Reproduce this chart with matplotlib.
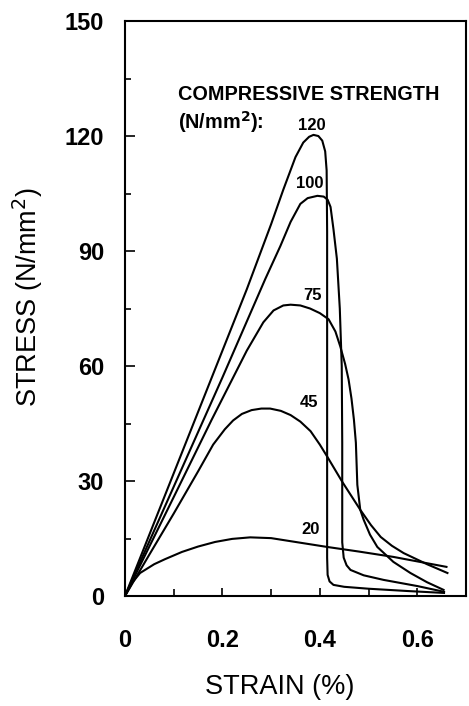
import matplotlib
matplotlib.use("Agg")
import matplotlib.pyplot as plt
from matplotlib.ticker import MultipleLocator

# stress-strain curves, strain in %, stress in N/mm2
strain_120 = [0, 0.1, 0.2, 0.25, 0.3, 0.325, 0.35, 0.366, 0.378, 0.387, 0.397, 0.405, 0.411, 0.414, 0.415,
              0.415, 0.416, 0.42, 0.428, 0.45, 0.5, 0.58, 0.655]
stress_120 = [0, 32, 64, 80, 97, 106, 114.5, 118.3, 119.8, 120.3, 120, 118.8, 116, 111, 95,
              10, 5.5, 3.8, 2.9, 2.4, 1.9, 1.3, 0.8]

strain_100 = [0, 0.1, 0.2, 0.288, 0.319, 0.34, 0.36, 0.375, 0.395, 0.408, 0.416, 0.422, 0.428, 0.435,
              0.441, 0.445, 0.446, 0.446, 0.449, 0.455, 0.463, 0.49, 0.531, 0.6, 0.655]
stress_100 = [0, 28.5, 57, 82.7, 91.3, 97.6, 102.3, 103.8, 104.4, 104.2, 103.4, 101.5, 95.7, 88,
              75, 60, 40, 14, 10, 8, 6.8, 5.4, 4.2, 2.6, 1.1]

strain_75 = [0, 0.1, 0.178, 0.25, 0.284, 0.305, 0.325, 0.34, 0.36, 0.38, 0.4, 0.418, 0.432, 0.442,
             0.452, 0.459, 0.465, 0.47, 0.474, 0.477, 0.483, 0.49, 0.503, 0.518, 0.551, 0.586, 0.62, 0.654]
stress_75 = [0, 25.8, 46, 64, 71.4, 74.5, 75.8, 76, 75.8, 75, 73.8, 72.2, 69, 65.1,
             60.5, 56.5, 51.5, 46, 40, 29, 22.5, 19.9, 16, 12.8, 8.9, 6.0, 3.6, 1.6]

strain_45 = [0, 0.05, 0.1, 0.15, 0.181, 0.205, 0.222, 0.24, 0.26, 0.28, 0.298, 0.32, 0.34, 0.36,
             0.381, 0.4, 0.415, 0.446, 0.483, 0.505, 0.525, 0.548, 0.572, 0.62, 0.662]
stress_45 = [0, 10.8, 21.5, 32.5, 39.5, 43.5, 45.8, 47.5, 48.5, 48.9, 48.9, 48.3, 47.2, 45.5,
             43, 39.5, 36.4, 29.8, 22.5, 18.5, 15.4, 13.1, 11.2, 8.3, 6.0]

strain_20 = [0, 0.015, 0.031, 0.06, 0.082, 0.117, 0.15, 0.185, 0.22, 0.257, 0.3, 0.36, 0.415, 0.48,
             0.551, 0.66]
stress_20 = [0, 3.5, 6.0, 8.3, 9.6, 11.5, 12.9, 14.1, 14.9, 15.3, 15.1, 13.9, 12.8, 11.6,
             10.2, 7.6]

curves = [(strain_120, stress_120), (strain_100, stress_100), (strain_75, stress_75),
          (strain_45, stress_45), (strain_20, stress_20)]

# curve labels and where they sit
curve_labels = ["120", "100", "75", "45", "20"]
label_x = [0.383, 0.379, 0.385, 0.377, 0.381]
label_y = [121.6, 106.5, 77.2, 49.3, 16.2]

x_ticks = [0, 0.2, 0.4, 0.6]
x_ticklabels = ["0", "0.2", "0.4", "0.6"]
y_ticks = [0, 30, 60, 90, 120, 150]

plt.rcParams['font.family'] = ['Liberation Sans', 'DejaVu Sans']

fig = plt.figure(figsize=(4.69, 7.06), dpi=100)
ax = fig.add_axes([0.2665, 0.1558, 0.727, 0.8144])

for sx, sy in curves:
    ax.plot(sx, sy, color='k', linewidth=1.5)

for lab, lx, ly in zip(curve_labels, label_x, label_y):
    ax.text(lx, ly, lab, ha='center', va='baseline', fontsize=12, fontweight='bold')

ax.text(0.109, 129.3, "COMPRESSIVE STRENGTH", ha='left', va='baseline', fontsize=14.3, fontweight='bold')
ax.text(0.109, 121.9, "(N/mm$^\\mathbf{2}$):", ha='left', va='baseline', fontsize=14.3, fontweight='bold')

ax.set_xlim(0, 0.7)
ax.set_ylim(0, 150)

ax.set_xticks(x_ticks)
ax.set_xticklabels(x_ticklabels)
ax.set_yticks(y_ticks)
ax.xaxis.set_minor_locator(MultipleLocator(0.1))
ax.yaxis.set_minor_locator(MultipleLocator(15))

for lab in ax.get_xticklabels() + ax.get_yticklabels():
    lab.set_fontweight('bold')

ax.tick_params(axis='x', which='major', direction='in', length=6, width=1.2, pad=24, labelsize=17)
ax.tick_params(axis='x', which='minor', direction='in', length=5, width=1.2)
ax.tick_params(axis='y', which='major', direction='in', length=7, width=1.2, pad=15, labelsize=17)
ax.tick_params(axis='y', which='minor', direction='in', length=4, width=1.2)

for sp in ax.spines.values():
    sp.set_linewidth(1.5)

ax.set_xlabel("STRAIN (%)", fontsize=19.5)
ax.xaxis.set_label_coords(0.455, -0.135)
ax.set_ylabel("STRESS (N/mm$^2$)", fontsize=19.5, va='center')
ax.yaxis.set_label_coords(-0.286, 0.52)

fig.savefig("out.png", dpi=100)
